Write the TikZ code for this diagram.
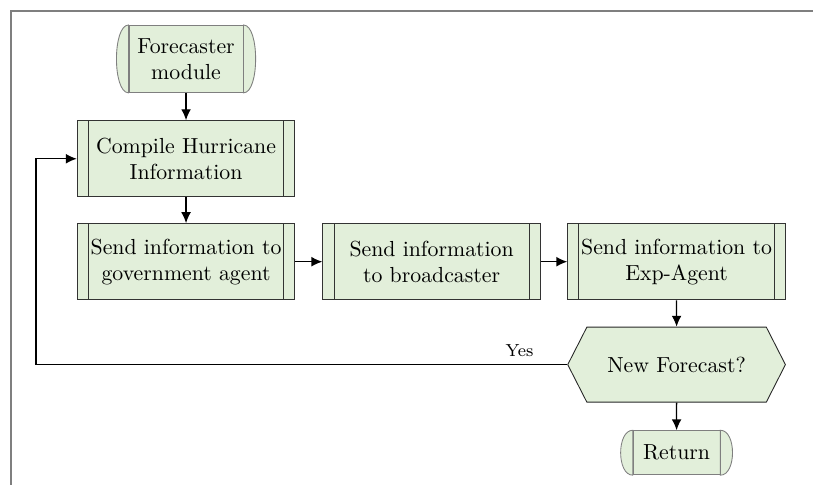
\documentclass[tikz,border=0pt]{standalone}
\usepackage{tikz}
\usetikzlibrary{arrows.meta,positioning,calc,shapes.symbols}
\definecolor{boxgreen}{HTML}{E2EFDA}
\definecolor{framegray}{HTML}{7F7F7F}

\begin{document}
\begin{tikzpicture}[
    process/.style={rectangle, draw=black!80, fill=boxgreen, minimum width=3.51cm, minimum height=1.23cm, align=center, inner sep=2pt,
        path picture={\draw ([xshift=0.18cm]path picture bounding box.north west) -- ([xshift=0.18cm]path picture bounding box.south west);
                      \draw ([xshift=-0.18cm]path picture bounding box.north east) -- ([xshift=-0.18cm]path picture bounding box.south east);}},
    terminal/.style={rectangle, draw=framegray, fill=boxgreen, align=center, inner sep=2pt},
    decision/.style={signal, signal to=west and east, signal pointer angle=126, draw=black!85, fill=boxgreen, minimum width=3.51cm, minimum height=1.21cm, inner sep=1pt},
    flow/.style={-{Latex[length=5pt,width=4.5pt]}, semithick}
]

\useasboundingbox (0,0) rectangle (13.11,-7.82);
\draw[framegray, line width=0.8pt] (0.18,-7.82) -- (0.18,-0.18) -- (13.11,-0.18);

\node[terminal, minimum width=1.84cm, minimum height=1.08cm] (fm) at (3.00,-0.95) {Forecaster\\module};
\node[process] (chi) at (3.00,-2.56) {Compile Hurricane\\Information};
\node[process] (sgov) at (3.00,-4.22) {Send information to\\government agent};
\node[process] (sbc) at (6.96,-4.22) {Send information\\to broadcaster};
\node[process] (sexp) at (10.91,-4.22) {Send information to\\Exp-Agent};
\node[decision] (nf) at (10.91,-5.88) {New Forecast?};
\node[terminal, minimum width=1.40cm, minimum height=0.71cm] (ret) at (10.91,-7.30) {Return};

% rounded ends of the terminals
\foreach \n in {fm,ret} {
    \filldraw[fill=boxgreen, draw=framegray] (\n.north west) .. controls +(-0.26,0) and +(-0.26,0) .. (\n.south west) -- cycle;
    \filldraw[fill=boxgreen, draw=framegray] (\n.north east) .. controls +(0.26,0) and +(0.26,0) .. (\n.south east) -- cycle;
}

\coordinate (loop) at (0.58,0);

\draw[flow] (fm) -- (chi);
\draw[flow] (chi) -- (sgov);
\draw[flow] (sgov) -- (sbc);
\draw[flow] (sbc) -- (sexp);
\draw[flow] (sexp) -- (nf);
\draw[flow] (nf) -- (ret);
\draw[flow] (nf.west) -- node[above, pos=0.09, font=\footnotesize] {Yes} (nf.west -| loop) |- (chi.west);

\end{tikzpicture}
\end{document}
